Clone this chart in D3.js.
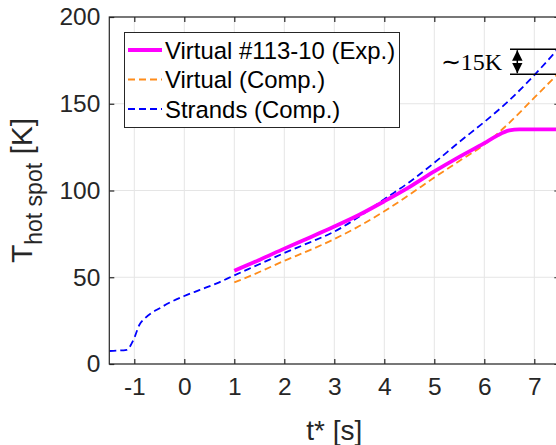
<!DOCTYPE html>
<html><head><meta charset="utf-8">
<script src="https://cdn.jsdelivr.net/npm/d3@7"></script>
<style>body{margin:0;background:#fff;overflow:hidden}svg{display:block}</style>
</head><body><svg id="c" width="556" height="445"></svg>
<script>
// ---- data ----
const xTicks = [-1, 0, 1, 2, 3, 4, 5, 6, 7];
const yTicks = [0, 50, 100, 150, 200];
const seriesNames = ["Virtual #113-10 (Exp.)", "Virtual (Comp.)", "Strands (Comp.)"];
const expT = [1, 1.5, 2, 2.5, 3, 3.5, 4, 4.5, 5, 5.5, 6, 6.25, 6.5, 6.7, 7.0, 7.5];
const expV = [53.8, 60, 66.5, 72.8, 79.2, 86, 93.8, 102, 111, 119.4, 127.3, 131.5, 134.6, 135.2, 135.2, 135.2];
const virtT = [1, 1.5, 2, 2.5, 3, 3.5, 4, 4.5, 5, 5.5, 6, 6.5, 7, 7.5];
const virtV = [47, 53, 59.5, 65.5, 72, 79.5, 88, 97.5, 107.5, 117, 126.5, 139, 153.5, 168];
const strT = [-1.5, -1.15, -1.1, -1.05, -1.0, -0.9, -0.8, -0.65, -0.5, -0.3, 0, 0.3, 0.65, 1.0, 1.5, 2.0, 2.5, 3.0, 3.5, 4.0, 4.5, 5.0, 5.5, 6.0, 6.5, 7.0, 7.5];
const strV = [7.5, 8.2, 9.5, 12, 15, 22.5, 26, 29.5, 32, 35.3, 39.2, 42.6, 46.5, 51.1, 57.5, 64, 70, 76.3, 85, 95, 104.8, 116, 128, 139.5, 152, 166.5, 182.5];
const annotVals = [181.4, 167];
const annotLabel = "∼15K";

// ---- layout ----
const svg = d3.select("#c");
const L = 109.3, T = 17, B = 364;
const x = d3.scaleLinear().domain([-1.5, 7.5]).range([L, L + 450]);
const y = d3.scaleLinear().domain([0, 200]).range([B, T]);
const R = x(7.5);
const axCol = "#262626", gridCol = "#e5e5e5";
const font = "'Liberation Sans', Arial, Helvetica, sans-serif";

// grid
const g = svg.append("g");
g.selectAll(".gx").data(xTicks).join("line")
  .attr("x1", d => x(d)).attr("x2", d => x(d)).attr("y1", T).attr("y2", B)
  .attr("stroke", gridCol).attr("stroke-width", 1);
g.selectAll(".gy").data(yTicks).join("line")
  .attr("x1", L).attr("x2", R).attr("y1", d => y(d)).attr("y2", d => y(d))
  .attr("stroke", gridCol).attr("stroke-width", 1);

// clip
svg.append("clipPath").attr("id", "clip").append("rect")
  .attr("x", L).attr("y", T).attr("width", R - L).attr("height", B - T);

const line = d3.line().x(d => x(d[0])).y(d => y(d[1])).curve(d3.curveMonotoneX);
const plot = svg.append("g").attr("clip-path", "url(#clip)");
plot.append("path").datum(d3.zip(virtT, virtV)).attr("d", line)
  .attr("fill", "none").attr("stroke", "#ff8c1a").attr("stroke-width", 1.8).attr("stroke-dasharray", "7,4");
plot.append("path").datum(d3.zip(strT, strV)).attr("d", line)
  .attr("fill", "none").attr("stroke", "#0000ff").attr("stroke-width", 1.8).attr("stroke-dasharray", "7,4");
plot.append("path").datum(d3.zip(expT, expV)).attr("d", line)
  .attr("fill", "none").attr("stroke", "#ff00ff").attr("stroke-width", 3.8);

// axes
const xAxB = d3.axisBottom(x).tickValues(xTicks).tickSize(-5).tickPadding(14).tickFormat(d => String(d));
const xAxT = d3.axisTop(x).tickValues(xTicks).tickSize(-5).tickFormat("");
const yAxL = d3.axisLeft(y).tickValues(yTicks).tickSize(-5).tickPadding(9).tickFormat(d => String(d));
const yAxR = d3.axisRight(y).tickValues(yTicks).tickSize(-5).tickFormat("");
function style(sel){
  sel.selectAll("path").attr("stroke", axCol).attr("stroke-width", 1.2);
  sel.selectAll("line").attr("stroke", axCol).attr("stroke-width", 1.2);
  sel.selectAll("text").attr("fill", axCol).attr("font-size", 24.5).attr("font-family", font);
}
svg.append("g").attr("transform", `translate(0,${B})`).call(xAxB).call(style);
svg.append("g").attr("transform", `translate(0,${T})`).call(xAxT).call(style);
svg.append("g").attr("transform", `translate(${L},0)`).call(yAxL).call(style);
svg.append("g").attr("transform", `translate(${R},0)`).call(yAxR).call(style);
svg.selectAll(".domain").attr("d", null);
svg.append("rect").attr("x", L).attr("y", T).attr("width", R - L).attr("height", B - T)
  .attr("fill", "none").attr("stroke", axCol).attr("stroke-width", 1.2);

// axis labels
svg.append("text").attr("x", x(3)).attr("y", 440).attr("text-anchor", "middle")
  .attr("font-family", font).attr("font-size", 28).attr("fill", axCol).text("t* [s]");
const yl = svg.append("text").attr("transform", `translate(32,${(T + B) / 2}) rotate(-90)`)
  .attr("text-anchor", "middle").attr("font-family", font).attr("fill", axCol).attr("font-size", 30);
yl.append("tspan").text("T");
yl.append("tspan").attr("font-size", 23).attr("dy", 10).text("hot spot");
yl.append("tspan").attr("dy", -10).text(" [K]");

// legend
const lg = svg.append("g");
lg.append("rect").attr("x", 124.5).attr("y", 32.5).attr("width", 275).attr("height", 95)
  .attr("fill", "#fff").attr("stroke", axCol).attr("stroke-width", 1);
const legStyle = [
  {c: "#ff00ff", w: 3.8, da: null},
  {c: "#ff8c1a", w: 1.8, da: "7,4"},
  {c: "#0000ff", w: 1.8, da: "7,4"}
];
seriesNames.forEach((n, i) => {
  const yy = 50 + i * 29.5;
  lg.append("line").attr("x1", 128).attr("x2", 162).attr("y1", yy).attr("y2", yy)
    .attr("stroke", legStyle[i].c).attr("stroke-width", legStyle[i].w).attr("stroke-dasharray", legStyle[i].da);
  lg.append("text").attr("x", 165).attr("y", yy + 8.5).attr("font-family", font)
    .attr("font-size", 23.9).attr("fill", "#000").text(n);
});

// annotation
const an = svg.append("g");
annotVals.forEach(v => {
  an.append("line").attr("x1", 510).attr("x2", R).attr("y1", y(v)).attr("y2", y(v))
    .attr("stroke", "#000").attr("stroke-width", 1.5);
});
svg.append("defs").html('<marker id="ah" viewBox="0 0 10 10" refX="10" refY="5" markerWidth="7" markerHeight="7" orient="auto-start-reverse"><path d="M0,0 L10,5 L0,10 z" fill="#000"/></marker>');
an.append("line").attr("x1", 517.3).attr("x2", 517.3).attr("y1", y(annotVals[0]) + 1).attr("y2", y(annotVals[1]) - 1)
  .attr("stroke", "#000").attr("stroke-width", 1.5)
  .attr("marker-start", "url(#ah)").attr("marker-end", "url(#ah)");
an.append("text").attr("x", 502).attr("y", (y(annotVals[0]) + y(annotVals[1])) / 2 + 8.5)
  .attr("text-anchor", "end").attr("font-family", "'Liberation Serif', 'Times New Roman', serif")
  .attr("font-size", 24).attr("fill", "#000").text(annotLabel);
</script></body></html>
